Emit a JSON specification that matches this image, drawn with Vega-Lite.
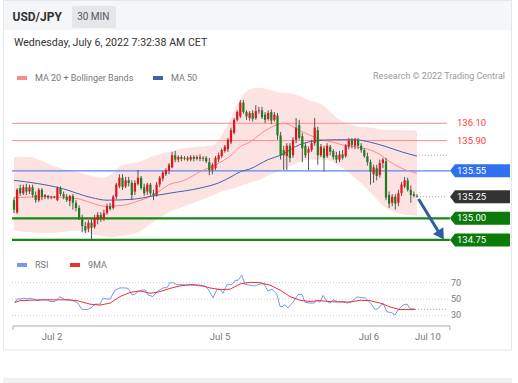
{
  "$schema": "https://vega.github.io/schema/vega-lite/v6.json",
  "width": 518,
  "height": 383,
  "padding": 0,
  "autosize": {"type": "none"},
  "background": "white",
  "config": {"view": {"stroke": null}, "font": "Roboto", "scale": {"continuousPadding": 0, "bandPaddingInner": 0}},
  "datasets": {
    "candles": [
      {"i":0,"o":135.21,"h":135.24,"l":135.06,"c":135.10},
      {"i":1,"o":135.07,"h":135.35,"l":135.05,"c":135.33},
      {"i":2,"o":135.35,"h":135.39,"l":135.26,"c":135.29},
      {"i":3,"o":135.29,"h":135.39,"l":135.27,"c":135.36},
      {"i":4,"o":135.36,"h":135.40,"l":135.27,"c":135.31},
      {"i":5,"o":135.31,"h":135.39,"l":135.28,"c":135.36},
      {"i":6,"o":135.36,"h":135.39,"l":135.24,"c":135.27},
      {"i":7,"o":135.27,"h":135.31,"l":135.18,"c":135.21},
      {"i":8,"o":135.21,"h":135.35,"l":135.19,"c":135.33},
      {"i":9,"o":135.33,"h":135.35,"l":135.21,"c":135.25},
      {"i":10,"o":135.25,"h":135.28,"l":135.22,"c":135.27},
      {"i":11,"o":135.26,"h":135.27,"l":135.22,"c":135.24},
      {"i":12,"o":135.24,"h":135.26,"l":135.22,"c":135.25},
      {"i":13,"o":135.25,"h":135.26,"l":135.23,"c":135.24},
      {"i":14,"o":135.21,"h":135.37,"l":135.20,"c":135.35},
      {"i":15,"o":135.35,"h":135.37,"l":135.26,"c":135.28},
      {"i":16,"o":135.28,"h":135.31,"l":135.22,"c":135.25},
      {"i":17,"o":135.25,"h":135.28,"l":135.19,"c":135.21},
      {"i":18,"o":135.20,"h":135.27,"l":135.14,"c":135.26},
      {"i":19,"o":135.26,"h":135.28,"l":135.10,"c":135.18},
      {"i":20,"o":135.18,"h":135.21,"l":135.08,"c":135.12},
      {"i":21,"o":135.12,"h":135.15,"l":134.98,"c":135.00},
      {"i":22,"o":135.00,"h":135.04,"l":134.84,"c":134.91},
      {"i":23,"o":134.91,"h":134.96,"l":134.83,"c":134.86},
      {"i":24,"o":134.88,"h":134.98,"l":134.84,"c":134.95},
      {"i":25,"o":134.95,"h":135.00,"l":134.75,"c":134.89},
      {"i":26,"o":134.90,"h":135.04,"l":134.88,"c":135.00},
      {"i":27,"o":134.98,"h":135.07,"l":134.93,"c":135.04},
      {"i":28,"o":135.04,"h":135.07,"l":134.96,"c":134.99},
      {"i":29,"o":134.99,"h":135.10,"l":134.97,"c":135.06},
      {"i":30,"o":135.06,"h":135.17,"l":135.04,"c":135.14},
      {"i":31,"o":135.14,"h":135.18,"l":135.09,"c":135.11},
      {"i":32,"o":135.12,"h":135.27,"l":135.10,"c":135.25},
      {"i":33,"o":135.25,"h":135.41,"l":135.22,"c":135.39},
      {"i":34,"o":135.37,"h":135.51,"l":135.35,"c":135.47},
      {"i":35,"o":135.47,"h":135.51,"l":135.33,"c":135.36},
      {"i":36,"o":135.37,"h":135.48,"l":135.35,"c":135.44},
      {"i":37,"o":135.44,"h":135.48,"l":135.37,"c":135.41},
      {"i":38,"o":135.41,"h":135.44,"l":135.21,"c":135.27},
      {"i":39,"o":135.31,"h":135.44,"l":135.27,"c":135.41},
      {"i":40,"o":135.40,"h":135.56,"l":135.38,"c":135.47},
      {"i":41,"o":135.47,"h":135.49,"l":135.33,"c":135.35},
      {"i":42,"o":135.36,"h":135.40,"l":135.26,"c":135.29},
      {"i":43,"o":135.31,"h":135.41,"l":135.27,"c":135.39},
      {"i":44,"o":135.39,"h":135.41,"l":135.26,"c":135.29},
      {"i":45,"o":135.29,"h":135.33,"l":135.21,"c":135.27},
      {"i":46,"o":135.27,"h":135.42,"l":135.25,"c":135.39},
      {"i":47,"o":135.39,"h":135.49,"l":135.36,"c":135.47},
      {"i":48,"o":135.46,"h":135.55,"l":135.43,"c":135.53},
      {"i":49,"o":135.51,"h":135.58,"l":135.49,"c":135.56},
      {"i":50,"o":135.55,"h":135.64,"l":135.51,"c":135.62},
      {"i":51,"o":135.59,"h":135.77,"l":135.58,"c":135.73},
      {"i":52,"o":135.73,"h":135.78,"l":135.65,"c":135.68},
      {"i":53,"o":135.68,"h":135.73,"l":135.65,"c":135.71},
      {"i":54,"o":135.71,"h":135.73,"l":135.66,"c":135.69},
      {"i":55,"o":135.69,"h":135.72,"l":135.67,"c":135.70},
      {"i":56,"o":135.70,"h":135.72,"l":135.66,"c":135.68},
      {"i":57,"o":135.68,"h":135.73,"l":135.66,"c":135.71},
      {"i":58,"o":135.71,"h":135.73,"l":135.66,"c":135.69},
      {"i":59,"o":135.69,"h":135.73,"l":135.67,"c":135.71},
      {"i":60,"o":135.71,"h":135.74,"l":135.66,"c":135.69},
      {"i":61,"o":135.69,"h":135.72,"l":135.66,"c":135.70},
      {"i":62,"o":135.70,"h":135.72,"l":135.64,"c":135.66},
      {"i":63,"o":135.65,"h":135.70,"l":135.50,"c":135.56},
      {"i":64,"o":135.56,"h":135.64,"l":135.51,"c":135.62},
      {"i":65,"o":135.58,"h":135.72,"l":135.56,"c":135.70},
      {"i":66,"o":135.68,"h":135.76,"l":135.65,"c":135.73},
      {"i":67,"o":135.72,"h":135.81,"l":135.70,"c":135.79},
      {"i":68,"o":135.78,"h":135.85,"l":135.76,"c":135.83},
      {"i":69,"o":135.80,"h":135.93,"l":135.77,"c":135.91},
      {"i":70,"o":135.88,"h":136.05,"l":135.86,"c":136.02},
      {"i":71,"o":135.99,"h":136.16,"l":135.97,"c":136.14},
      {"i":72,"o":136.14,"h":136.25,"l":136.12,"c":136.23},
      {"i":73,"o":136.18,"h":136.37,"l":136.16,"c":136.34},
      {"i":74,"o":136.34,"h":136.37,"l":136.21,"c":136.23},
      {"i":75,"o":136.23,"h":136.25,"l":136.14,"c":136.18},
      {"i":76,"o":136.16,"h":136.24,"l":136.13,"c":136.22},
      {"i":77,"o":136.22,"h":136.25,"l":136.12,"c":136.15},
      {"i":78,"o":136.16,"h":136.31,"l":136.14,"c":136.24},
      {"i":79,"o":136.24,"h":136.29,"l":136.21,"c":136.25},
      {"i":80,"o":136.25,"h":136.29,"l":136.15,"c":136.17},
      {"i":81,"o":136.20,"h":136.23,"l":136.10,"c":136.14},
      {"i":82,"o":136.15,"h":136.25,"l":136.13,"c":136.22},
      {"i":83,"o":136.23,"h":136.26,"l":136.09,"c":136.13},
      {"i":84,"o":136.14,"h":136.23,"l":136.12,"c":136.20},
      {"i":85,"o":136.19,"h":136.22,"l":135.91,"c":135.96},
      {"i":86,"o":135.96,"h":136.00,"l":135.68,"c":135.73},
      {"i":87,"o":135.79,"h":135.84,"l":135.56,"c":135.73},
      {"i":88,"o":135.72,"h":135.87,"l":135.56,"c":135.84},
      {"i":89,"o":135.84,"h":135.87,"l":135.65,"c":135.70},
      {"i":90,"o":135.73,"h":135.94,"l":135.70,"c":135.91},
      {"i":91,"o":135.91,"h":136.16,"l":135.87,"c":136.05},
      {"i":92,"o":136.08,"h":136.14,"l":135.91,"c":135.93},
      {"i":93,"o":135.95,"h":135.99,"l":135.65,"c":135.81},
      {"i":94,"o":135.84,"h":135.87,"l":135.70,"c":135.73},
      {"i":95,"o":135.76,"h":135.83,"l":135.56,"c":135.80},
      {"i":96,"o":135.79,"h":135.91,"l":135.77,"c":135.87},
      {"i":97,"o":135.87,"h":136.16,"l":135.84,"c":136.05},
      {"i":98,"o":136.02,"h":136.06,"l":135.62,"c":135.73},
      {"i":99,"o":135.73,"h":135.86,"l":135.71,"c":135.83},
      {"i":100,"o":135.81,"h":135.84,"l":135.54,"c":135.70},
      {"i":101,"o":135.72,"h":135.87,"l":135.70,"c":135.84},
      {"i":102,"o":135.83,"h":135.85,"l":135.73,"c":135.77},
      {"i":103,"o":135.78,"h":135.80,"l":135.68,"c":135.71},
      {"i":104,"o":135.73,"h":135.77,"l":135.64,"c":135.68},
      {"i":105,"o":135.68,"h":135.78,"l":135.65,"c":135.74},
      {"i":106,"o":135.74,"h":135.79,"l":135.68,"c":135.70},
      {"i":107,"o":135.72,"h":135.86,"l":135.70,"c":135.84},
      {"i":108,"o":135.83,"h":135.93,"l":135.80,"c":135.90},
      {"i":109,"o":135.90,"h":135.93,"l":135.81,"c":135.85},
      {"i":110,"o":135.84,"h":135.93,"l":135.80,"c":135.91},
      {"i":111,"o":135.90,"h":135.93,"l":135.80,"c":135.84},
      {"i":112,"o":135.84,"h":135.87,"l":135.76,"c":135.79},
      {"i":113,"o":135.79,"h":135.81,"l":135.70,"c":135.72},
      {"i":114,"o":135.72,"h":135.76,"l":135.61,"c":135.65},
      {"i":115,"o":135.65,"h":135.68,"l":135.39,"c":135.54},
      {"i":116,"o":135.51,"h":135.62,"l":135.41,"c":135.59},
      {"i":117,"o":135.58,"h":135.62,"l":135.44,"c":135.49},
      {"i":118,"o":135.50,"h":135.68,"l":135.47,"c":135.64},
      {"i":119,"o":135.64,"h":135.70,"l":135.58,"c":135.68},
      {"i":120,"o":135.66,"h":135.70,"l":135.21,"c":135.24},
      {"i":121,"o":135.27,"h":135.31,"l":135.12,"c":135.17},
      {"i":122,"o":135.18,"h":135.28,"l":135.14,"c":135.25},
      {"i":123,"o":135.25,"h":135.28,"l":135.10,"c":135.17},
      {"i":124,"o":135.18,"h":135.33,"l":135.14,"c":135.29},
      {"i":125,"o":135.29,"h":135.42,"l":135.26,"c":135.39},
      {"i":126,"o":135.37,"h":135.48,"l":135.35,"c":135.44},
      {"i":127,"o":135.44,"h":135.47,"l":135.31,"c":135.33},
      {"i":128,"o":135.33,"h":135.38,"l":135.18,"c":135.27},
      {"i":129,"o":135.28,"h":135.31,"l":135.24,"c":135.26},
      {"i":130,"o":135.26,"h":135.28,"l":135.24,"c":135.25}
    ],
    "band": [
      {"i":0,"u":135.71,"lo":134.86},{"i":5,"u":135.71,"lo":134.84},{"i":10,"u":135.65,"lo":134.83},
      {"i":15,"u":135.58,"lo":134.84},{"i":20,"u":135.54,"lo":134.86},{"i":25,"u":135.49,"lo":134.82},
      {"i":28,"u":135.47,"lo":134.80},{"i":31,"u":135.50,"lo":134.78},{"i":35,"u":135.62,"lo":134.80},
      {"i":40,"u":135.65,"lo":134.84},{"i":45,"u":135.72,"lo":134.96},{"i":50,"u":135.77,"lo":135.07},
      {"i":55,"u":135.81,"lo":135.14},{"i":60,"u":135.83,"lo":135.21},{"i":64.5,"u":135.85,"lo":135.27},
      {"i":66,"u":135.91,"lo":135.30},{"i":68,"u":136.02,"lo":135.32},{"i":70,"u":136.16,"lo":135.34},
      {"i":72,"u":136.31,"lo":135.36},{"i":74,"u":136.43,"lo":135.39},{"i":76,"u":136.49,"lo":135.41},
      {"i":79,"u":136.51,"lo":135.44},{"i":82,"u":136.49,"lo":135.50},{"i":85,"u":136.46,"lo":135.54},
      {"i":90,"u":136.44,"lo":135.62},{"i":95,"u":136.37,"lo":135.68},{"i":100,"u":136.30,"lo":135.68},
      {"i":103,"u":136.20,"lo":135.65},{"i":106,"u":136.12,"lo":135.58},{"i":110,"u":136.07,"lo":135.47},
      {"i":115,"u":136.05,"lo":135.30},{"i":120,"u":136.02,"lo":135.12},{"i":125,"u":136.02,"lo":135.05},
      {"i":130,"u":136.01,"lo":135.03}
    ],
    "ma": [
      {"i":0,"v":135.24,"s":"MA 20 + Bollinger Bands"},{"i":10,"v":135.25,"s":"MA 20 + Bollinger Bands"},
      {"i":20,"v":135.23,"s":"MA 20 + Bollinger Bands"},{"i":25,"v":135.18,"s":"MA 20 + Bollinger Bands"},
      {"i":29,"v":135.14,"s":"MA 20 + Bollinger Bands"},{"i":35,"v":135.15,"s":"MA 20 + Bollinger Bands"},
      {"i":40,"v":135.20,"s":"MA 20 + Bollinger Bands"},{"i":45,"v":135.27,"s":"MA 20 + Bollinger Bands"},
      {"i":50,"v":135.39,"s":"MA 20 + Bollinger Bands"},{"i":55,"v":135.44,"s":"MA 20 + Bollinger Bands"},
      {"i":60,"v":135.54,"s":"MA 20 + Bollinger Bands"},{"i":65,"v":135.62,"s":"MA 20 + Bollinger Bands"},
      {"i":70,"v":135.73,"s":"MA 20 + Bollinger Bands"},{"i":73,"v":135.83,"s":"MA 20 + Bollinger Bands"},
      {"i":76,"v":135.88,"s":"MA 20 + Bollinger Bands"},{"i":80,"v":135.99,"s":"MA 20 + Bollinger Bands"},
      {"i":84,"v":136.07,"s":"MA 20 + Bollinger Bands"},{"i":87,"v":136.10,"s":"MA 20 + Bollinger Bands"},
      {"i":90,"v":136.06,"s":"MA 20 + Bollinger Bands"},{"i":92,"v":136.02,"s":"MA 20 + Bollinger Bands"},
      {"i":95,"v":135.97,"s":"MA 20 + Bollinger Bands"},{"i":99,"v":135.91,"s":"MA 20 + Bollinger Bands"},
      {"i":103,"v":135.88,"s":"MA 20 + Bollinger Bands"},{"i":106,"v":135.85,"s":"MA 20 + Bollinger Bands"},
      {"i":110,"v":135.83,"s":"MA 20 + Bollinger Bands"},{"i":115,"v":135.79,"s":"MA 20 + Bollinger Bands"},
      {"i":118,"v":135.74,"s":"MA 20 + Bollinger Bands"},{"i":121,"v":135.66,"s":"MA 20 + Bollinger Bands"},
      {"i":125,"v":135.58,"s":"MA 20 + Bollinger Bands"},{"i":130,"v":135.52,"s":"MA 20 + Bollinger Bands"},
      {"i":0,"v":135.44,"s":"MA 50"},{"i":15,"v":135.35,"s":"MA 50"},{"i":25,"v":135.24,"s":"MA 50"},
      {"i":30,"v":135.21,"s":"MA 50"},{"i":38,"v":135.22,"s":"MA 50"},{"i":45,"v":135.26,"s":"MA 50"},
      {"i":50,"v":135.29,"s":"MA 50"},{"i":60,"v":135.35,"s":"MA 50"},{"i":66,"v":135.41,"s":"MA 50"},
      {"i":70,"v":135.48,"s":"MA 50"},{"i":73,"v":135.54,"s":"MA 50"},{"i":76,"v":135.57,"s":"MA 50"},
      {"i":82,"v":135.68,"s":"MA 50"},{"i":86,"v":135.73,"s":"MA 50"},{"i":92,"v":135.85,"s":"MA 50"},
      {"i":98,"v":135.90,"s":"MA 50"},{"i":104,"v":135.91,"s":"MA 50"},{"i":110,"v":135.91,"s":"MA 50"},
      {"i":115,"v":135.88,"s":"MA 50"},{"i":120,"v":135.83,"s":"MA 50"},{"i":125,"v":135.77,"s":"MA 50"},
      {"i":130,"v":135.72,"s":"MA 50"}
    ],
    "levels": [
      {"level":136.10,"type":"res"},{"level":135.90,"type":"res"},{"level":135.55,"type":"pivot"},
      {"level":135.25,"type":"last"},{"level":135.00,"type":"support"},{"level":134.75,"type":"support"}
    ],
    "grid": [{"g":70},{"g":50},{"g":30}],
    "dates": [{"d":"Jul 2","i":12.26},{"d":"Jul 5","i":66.45},{"d":"Jul 6","i":114.5},{"d":"Jul 10","i":133.5}],
    "rsi": [
      {"i":0.3,"v":45.6,"s":"RSI"},{"i":1.0,"v":50,"s":"RSI"},{"i":1.9,"v":50,"s":"RSI"},{"i":3.2,"v":51,"s":"RSI"},
      {"i":4.2,"v":50,"s":"RSI"},{"i":5.2,"v":51,"s":"RSI"},{"i":6.1,"v":50,"s":"RSI"},{"i":7.4,"v":48,"s":"RSI"},
      {"i":9.0,"v":49,"s":"RSI"},{"i":10.6,"v":49,"s":"RSI"},{"i":11.6,"v":47,"s":"RSI"},{"i":13.2,"v":47,"s":"RSI"},
      {"i":14.8,"v":52.8,"s":"RSI"},{"i":16.5,"v":49,"s":"RSI"},{"i":18.1,"v":49,"s":"RSI"},{"i":19.7,"v":47,"s":"RSI"},
      {"i":20.6,"v":45,"s":"RSI"},{"i":21.9,"v":37.3,"s":"RSI"},{"i":22.9,"v":37,"s":"RSI"},{"i":23.9,"v":37.3,"s":"RSI"},
      {"i":25.2,"v":40,"s":"RSI"},{"i":26.1,"v":43.7,"s":"RSI"},{"i":27.7,"v":43.7,"s":"RSI"},{"i":28.7,"v":51,"s":"RSI"},
      {"i":30.0,"v":50,"s":"RSI"},{"i":31.0,"v":50,"s":"RSI"},{"i":32.6,"v":61,"s":"RSI"},{"i":34.2,"v":63.6,"s":"RSI"},
      {"i":35.8,"v":63.6,"s":"RSI"},{"i":36.8,"v":63,"s":"RSI"},{"i":38.1,"v":55,"s":"RSI"},{"i":39.0,"v":56,"s":"RSI"},
      {"i":40.0,"v":59,"s":"RSI"},{"i":41.3,"v":61,"s":"RSI"},{"i":42.3,"v":61,"s":"RSI"},{"i":43.2,"v":55,"s":"RSI"},
      {"i":44.8,"v":53,"s":"RSI"},{"i":46.1,"v":59,"s":"RSI"},{"i":48.1,"v":63.6,"s":"RSI"},{"i":49.4,"v":64,"s":"RSI"},
      {"i":50.3,"v":70,"s":"RSI"},{"i":51.3,"v":70,"s":"RSI"},{"i":52.6,"v":67.6,"s":"RSI"},{"i":54.5,"v":67.6,"s":"RSI"},
      {"i":55.8,"v":67,"s":"RSI"},{"i":57.7,"v":67,"s":"RSI"},{"i":60.0,"v":66,"s":"RSI"},{"i":61.6,"v":66,"s":"RSI"},
      {"i":62.6,"v":62,"s":"RSI"},{"i":64.2,"v":51.5,"s":"RSI"},{"i":65.5,"v":62,"s":"RSI"},{"i":66.5,"v":62,"s":"RSI"},
      {"i":67.4,"v":57,"s":"RSI"},{"i":68.7,"v":67.6,"s":"RSI"},{"i":70.3,"v":67.6,"s":"RSI"},{"i":71.3,"v":73,"s":"RSI"},
      {"i":72.3,"v":73,"s":"RSI"},{"i":73.5,"v":79.5,"s":"RSI"},{"i":74.5,"v":68,"s":"RSI"},{"i":76.1,"v":67,"s":"RSI"},
      {"i":77.7,"v":66,"s":"RSI"},{"i":79.4,"v":68.5,"s":"RSI"},{"i":80.6,"v":68.5,"s":"RSI"},{"i":81.9,"v":60,"s":"RSI"},
      {"i":83.2,"v":62,"s":"RSI"},{"i":84.8,"v":56,"s":"RSI"},{"i":85.8,"v":41,"s":"RSI"},{"i":86.5,"v":40.6,"s":"RSI"},
      {"i":87.4,"v":43,"s":"RSI"},{"i":88.4,"v":39,"s":"RSI"},{"i":90.0,"v":46,"s":"RSI"},{"i":91.6,"v":55.5,"s":"RSI"},
      {"i":92.9,"v":55.5,"s":"RSI"},{"i":93.9,"v":46,"s":"RSI"},{"i":95.5,"v":45,"s":"RSI"},{"i":96.8,"v":45,"s":"RSI"},
      {"i":97.7,"v":49,"s":"RSI"},{"i":98.7,"v":46,"s":"RSI"},{"i":99.7,"v":54.4,"s":"RSI"},{"i":101.0,"v":47,"s":"RSI"},
      {"i":101.9,"v":45,"s":"RSI"},{"i":102.9,"v":49,"s":"RSI"},{"i":104.2,"v":47,"s":"RSI"},{"i":106.1,"v":47,"s":"RSI"},
      {"i":107.4,"v":45,"s":"RSI"},{"i":109.0,"v":47,"s":"RSI"},{"i":110.6,"v":52.5,"s":"RSI"},{"i":112.3,"v":51.5,"s":"RSI"},
      {"i":113.2,"v":51.5,"s":"RSI"},{"i":114.8,"v":46,"s":"RSI"},{"i":116.5,"v":37.4,"s":"RSI"},{"i":117.4,"v":38,"s":"RSI"},
      {"i":119.0,"v":45,"s":"RSI"},{"i":120.3,"v":34.4,"s":"RSI"},{"i":121.9,"v":33,"s":"RSI"},{"i":122.9,"v":30.4,"s":"RSI"},
      {"i":123.9,"v":36.6,"s":"RSI"},{"i":125.5,"v":42.6,"s":"RSI"},{"i":126.8,"v":43.8,"s":"RSI"},{"i":127.7,"v":38.5,"s":"RSI"},
      {"i":129.4,"v":37.4,"s":"RSI"},
      {"i":0.3,"v":45.6,"s":"9MA"},{"i":1.9,"v":48,"s":"9MA"},{"i":5.2,"v":48.5,"s":"9MA"},{"i":8.4,"v":49,"s":"9MA"},
      {"i":11.6,"v":49,"s":"9MA"},{"i":14.8,"v":49,"s":"9MA"},{"i":17.1,"v":49,"s":"9MA"},{"i":20.3,"v":48,"s":"9MA"},
      {"i":24.5,"v":43.7,"s":"9MA"},{"i":27.7,"v":42.5,"s":"9MA"},{"i":31.0,"v":45,"s":"9MA"},{"i":34.2,"v":53,"s":"9MA"},
      {"i":37.4,"v":58,"s":"9MA"},{"i":40.6,"v":60,"s":"9MA"},{"i":43.9,"v":57,"s":"9MA"},{"i":47.1,"v":59,"s":"9MA"},
      {"i":50.3,"v":63,"s":"9MA"},{"i":53.5,"v":66,"s":"9MA"},{"i":56.8,"v":67.6,"s":"9MA"},{"i":60.0,"v":67,"s":"9MA"},
      {"i":63.2,"v":63.6,"s":"9MA"},{"i":66.5,"v":61.5,"s":"9MA"},{"i":69.7,"v":62,"s":"9MA"},{"i":72.9,"v":68.5,"s":"9MA"},
      {"i":76.1,"v":70.5,"s":"9MA"},{"i":79.4,"v":70,"s":"9MA"},{"i":82.6,"v":67,"s":"9MA"},{"i":85.8,"v":61,"s":"9MA"},
      {"i":89.0,"v":53,"s":"9MA"},{"i":92.3,"v":48.4,"s":"9MA"},{"i":95.5,"v":47,"s":"9MA"},{"i":98.7,"v":48,"s":"9MA"},
      {"i":101.9,"v":46.7,"s":"9MA"},{"i":105.2,"v":46.3,"s":"9MA"},{"i":108.4,"v":46.3,"s":"9MA"},{"i":111.6,"v":48.4,"s":"9MA"},
      {"i":114.8,"v":48,"s":"9MA"},{"i":118.1,"v":45,"s":"9MA"},{"i":121.3,"v":40.3,"s":"9MA"},{"i":124.5,"v":37,"s":"9MA"},
      {"i":127.7,"v":37,"s":"9MA"},{"i":129.4,"v":37,"s":"9MA"}
    ]
  },
  "layer": [
    {
      "data": {"values": [{}]},
      "mark": {"type": "rect", "fill": "#f5f6f8"},
      "encoding": {
        "x": {"datum": -3.548, "type": "quantitative", "scale": {"domain": [-4.516, 162.58], "nice": false, "zero": false, "padding": 0}, "axis": null},
        "x2": {"datum": 160.645},
        "y": {"datum": 137.527, "type": "quantitative", "scale": {"domain": [133.094, 137.527], "nice": false, "zero": false}, "axis": null},
        "y2": {"datum": 137.18}
      }
    },
    {
      "data": {"values": [{}]},
      "mark": {"type": "rect", "fill": "transparent", "stroke": "#e3e7eb", "strokeWidth": 1},
      "encoding": {
        "x": {"datum": -3.39, "type": "quantitative", "scale": {"domain": [-4.516, 162.58], "nice": false, "zero": false, "padding": 0}, "axis": null},
        "x2": {"datum": 160.48},
        "y": {"datum": 137.521, "type": "quantitative", "scale": {"domain": [133.094, 137.527], "nice": false, "zero": false}, "axis": null},
        "y2": {"datum": 133.476}
      }
    },
    {
      "data": {"values": [{}]},
      "mark": {"type": "rect", "fill": "#f1f1f1"},
      "encoding": {
        "x": {"datum": -3.548, "type": "quantitative", "scale": {"domain": [-4.516, 162.58], "nice": false, "zero": false, "padding": 0}, "axis": null},
        "x2": {"datum": 160.645},
        "y": {"datum": 133.152, "type": "quantitative", "scale": {"domain": [133.094, 137.527], "nice": false, "zero": false}, "axis": null},
        "y2": {"datum": 133.094}
      }
    },
    {
      "data": {"values": [{}]},
      "mark": {"type": "rect", "fill": "#e4e6e9", "cornerRadius": 2},
      "encoding": {
        "x": {"datum": 18.71, "type": "quantitative", "scale": {"domain": [-4.516, 162.58], "nice": false, "zero": false, "padding": 0}, "axis": null},
        "x2": {"datum": 32.9},
        "y": {"datum": 137.458, "type": "quantitative", "scale": {"domain": [133.094, 137.527], "nice": false, "zero": false}, "axis": null},
        "y2": {"datum": 137.203}
      }
    },
    {
      "data": {"values": [{}]},
      "mark": {"type": "text", "text": "USD/JPY", "align": "left", "baseline": "middle", "font": "Roboto", "fontSize": 12, "fontWeight": "bold", "fill": "#333"},
      "encoding": {
        "x": {"datum": -0.484, "type": "quantitative", "scale": {"domain": [-4.516, 162.58], "nice": false, "zero": false, "padding": 0}, "axis": null},
        "y": {"datum": 137.33, "type": "quantitative", "scale": {"domain": [133.094, 137.527], "nice": false, "zero": false}, "axis": null}
      }
    },
    {
      "data": {"values": [{}]},
      "mark": {"type": "text", "text": "30 MIN", "align": "center", "baseline": "middle", "font": "Roboto", "fontSize": 10, "fill": "#555"},
      "encoding": {
        "x": {"datum": 25.58, "type": "quantitative", "scale": {"domain": [-4.516, 162.58], "nice": false, "zero": false, "padding": 0}, "axis": null},
        "y": {"datum": 137.33, "type": "quantitative", "scale": {"domain": [133.094, 137.527], "nice": false, "zero": false}, "axis": null}
      }
    },
    {
      "data": {"values": [{}]},
      "mark": {"type": "text", "text": "Wednesday, July 6, 2022 7:32:38 AM CET", "align": "left", "baseline": "middle", "font": "Roboto", "fontSize": 10.6, "fill": "#333"},
      "encoding": {
        "x": {"datum": 0, "type": "quantitative", "scale": {"domain": [-4.516, 162.58], "nice": false, "zero": false, "padding": 0}, "axis": null},
        "y": {"datum": 137.033, "type": "quantitative", "scale": {"domain": [133.094, 137.527], "nice": false, "zero": false}, "axis": null}
      }
    },
    {
      "data": {"values": [{}]},
      "mark": {"type": "text", "text": "Research © 2022 Trading Central", "align": "right", "baseline": "middle", "font": "Roboto", "fontSize": 9, "fill": "#9a9a9a"},
      "encoding": {
        "x": {"datum": 158.39, "type": "quantitative", "scale": {"domain": [-4.516, 162.58], "nice": false, "zero": false, "padding": 0}, "axis": null},
        "y": {"datum": 136.651, "type": "quantitative", "scale": {"domain": [133.094, 137.527], "nice": false, "zero": false}, "axis": null}
      }
    },
    {
      "data": {"name": "band"},
      "mark": {"type": "area", "fill": "#fde2e2", "interpolate": "monotone"},
      "encoding": {
        "x": {"field": "i", "type": "quantitative", "scale": {"domain": [-4.516, 162.58], "nice": false, "zero": false, "padding": 0}, "axis": null},
        "y": {"field": "u", "type": "quantitative", "scale": {"domain": [133.094, 137.527], "nice": false, "zero": false}, "axis": null},
        "y2": {"field": "lo"}
      }
    },
    {
      "data": {"name": "levels"},
      "transform": [{"filter": "datum.type == 'res'"}],
      "mark": {"type": "rule", "stroke": "#ff8c8c", "strokeWidth": 1},
      "encoding": {
        "x": {"datum": -0.645, "type": "quantitative", "scale": {"domain": [-4.516, 162.58], "nice": false, "zero": false, "padding": 0}, "axis": null},
        "x2": {"datum": 139.7},
        "y": {"field": "level", "type": "quantitative", "scale": {"domain": [133.094, 137.527], "nice": false, "zero": false}, "axis": null}
      }
    },
    {
      "data": {"name": "levels"},
      "transform": [{"filter": "datum.type == 'pivot'"}],
      "mark": {"type": "rule", "stroke": "#5a86f2", "strokeWidth": 1.2},
      "encoding": {
        "x": {"datum": -0.645, "type": "quantitative", "scale": {"domain": [-4.516, 162.58], "nice": false, "zero": false, "padding": 0}, "axis": null},
        "x2": {"datum": 140.6},
        "y": {"field": "level", "type": "quantitative", "scale": {"domain": [133.094, 137.527], "nice": false, "zero": false}, "axis": null}
      }
    },
    {
      "data": {"name": "levels"},
      "transform": [{"filter": "datum.type == 'support'"}],
      "mark": {"type": "rule", "stroke": "#148a14", "strokeWidth": 2.2},
      "encoding": {
        "x": {"datum": -0.645, "type": "quantitative", "scale": {"domain": [-4.516, 162.58], "nice": false, "zero": false, "padding": 0}, "axis": null},
        "x2": {"datum": 140.6},
        "y": {"field": "level", "type": "quantitative", "scale": {"domain": [133.094, 137.527], "nice": false, "zero": false}, "axis": null}
      }
    },
    {
      "data": {"name": "ma"},
      "mark": {"type": "line", "strokeWidth": 1, "interpolate": "monotone"},
      "encoding": {
        "x": {"field": "i", "type": "quantitative", "scale": {"domain": [-4.516, 162.58], "nice": false, "zero": false, "padding": 0}, "axis": null},
        "y": {"field": "v", "type": "quantitative", "scale": {"domain": [133.094, 137.527], "nice": false, "zero": false}, "axis": null},
        "color": {
          "field": "s", "type": "nominal",
          "scale": {"domain": ["MA 20 + Bollinger Bands", "MA 50"], "range": ["#fb8a8a", "#4064aa"]},
          "legend": {
            "orient": "none", "legendX": 15, "legendY": 71, "direction": "horizontal", "title": null,
            "symbolType": "stroke", "symbolSize": 100, "symbolStrokeWidth": 4, "labelOffset": 6, "columnPadding": 11,
            "labelFont": "Roboto", "labelFontSize": 9, "labelColor": "#777"
          }
        }
      }
    },
    {
      "data": {"name": "candles"},
      "mark": {"type": "rule", "stroke": "#555", "strokeWidth": 1},
      "encoding": {
        "x": {"field": "i", "type": "quantitative", "scale": {"domain": [-4.516, 162.58], "nice": false, "zero": false, "padding": 0}, "axis": null},
        "y": {"field": "l", "type": "quantitative", "scale": {"domain": [133.094, 137.527], "nice": false, "zero": false}, "axis": null},
        "y2": {"field": "h"}
      }
    },
    {
      "data": {"name": "candles"},
      "mark": {"type": "bar", "size": 2.2},
      "encoding": {
        "x": {"field": "i", "type": "quantitative", "scale": {"domain": [-4.516, 162.58], "nice": false, "zero": false, "padding": 0}, "axis": null},
        "y": {"field": "o", "type": "quantitative", "scale": {"domain": [133.094, 137.527], "nice": false, "zero": false}, "axis": null},
        "y2": {"field": "c"},
        "color": {"condition": {"test": "datum.c >= datum.o", "value": "#e3141b"}, "value": "#1e7d1e"}
      }
    },
    {
      "data": {"values": [{}]},
      "mark": {"type": "rule", "stroke": "#999", "strokeWidth": 1, "strokeDash": [1, 2]},
      "encoding": {
        "x": {"datum": 130.6, "type": "quantitative", "scale": {"domain": [-4.516, 162.58], "nice": false, "zero": false, "padding": 0}, "axis": null},
        "x2": {"datum": 139.7},
        "y": {"datum": 135.73, "type": "quantitative", "scale": {"domain": [133.094, 137.527], "nice": false, "zero": false}, "axis": null}
      }
    },
    {
      "data": {"name": "levels"},
      "transform": [{"filter": "datum.type == 'last'"}],
      "mark": {"type": "rule", "stroke": "#999", "strokeWidth": 1, "strokeDash": [1, 2]},
      "encoding": {
        "x": {"datum": 131, "type": "quantitative", "scale": {"domain": [-4.516, 162.58], "nice": false, "zero": false, "padding": 0}, "axis": null},
        "x2": {"datum": 139.7},
        "y": {"field": "level", "type": "quantitative", "scale": {"domain": [133.094, 137.527], "nice": false, "zero": false}, "axis": null}
      }
    },
    {
      "data": {"values": [{}]},
      "mark": {"type": "rule", "stroke": "#2d5e9e", "strokeWidth": 3},
      "encoding": {
        "x": {"datum": 130.5, "type": "quantitative", "scale": {"domain": [-4.516, 162.58], "nice": false, "zero": false, "padding": 0}, "axis": null},
        "x2": {"datum": 136.8},
        "y": {"datum": 135.224, "type": "quantitative", "scale": {"domain": [133.094, 137.527], "nice": false, "zero": false}, "axis": null},
        "y2": {"datum": 134.853}
      }
    },
    {
      "data": {"values": [{}]},
      "mark": {"type": "point", "shape": "triangle-down", "filled": true, "size": 150, "angle": -33, "fill": "#2d5e9e", "strokeWidth": 0, "opacity": 1},
      "encoding": {
        "x": {"datum": 137.74, "type": "quantitative", "scale": {"domain": [-4.516, 162.58], "nice": false, "zero": false, "padding": 0}, "axis": null},
        "y": {"datum": 134.807, "type": "quantitative", "scale": {"domain": [133.094, 137.527], "nice": false, "zero": false}, "axis": null}
      }
    },
    {
      "data": {"name": "levels"},
      "transform": [{"filter": "datum.type != 'res'"}],
      "mark": {"type": "point", "shape": "M-1,0L-0.833,-0.217L1,-0.217L1,0.217L-0.833,0.217Z", "filled": true, "size": 3600, "strokeWidth": 0, "opacity": 1},
      "encoding": {
        "x": {"datum": 150.32, "type": "quantitative", "scale": {"domain": [-4.516, 162.58], "nice": false, "zero": false, "padding": 0}, "axis": null},
        "y": {"field": "level", "type": "quantitative", "scale": {"domain": [133.094, 137.527], "nice": false, "zero": false}, "axis": null},
        "color": {"field": "type", "type": "nominal", "scale": {"domain": ["pivot", "last", "support"], "range": ["#2f6ff0", "#333333", "#0b7a0b"]}, "legend": null}
      }
    },
    {
      "data": {"name": "levels"},
      "mark": {"type": "text", "align": "left", "baseline": "middle", "font": "Roboto", "fontSize": 9.5},
      "encoding": {
        "x": {"datum": 142.9, "type": "quantitative", "scale": {"domain": [-4.516, 162.58], "nice": false, "zero": false, "padding": 0}, "axis": null},
        "y": {"field": "level", "type": "quantitative", "scale": {"domain": [133.094, 137.527], "nice": false, "zero": false}, "axis": null},
        "text": {"field": "level", "format": ".2f"},
        "color": {"condition": {"test": "datum.type == 'res'", "value": "#ff3b3b"}, "value": "#ffffff"}
      }
    },
    {
      "data": {"name": "grid"},
      "mark": {"type": "rule", "stroke": "#cccccc", "strokeWidth": 1, "strokeDash": [1, 2]},
      "encoding": {
        "x": {"datum": -0.645, "type": "quantitative", "scale": {"domain": [-4.516, 162.58], "nice": false, "zero": false, "padding": 0}, "axis": null},
        "x2": {"datum": 140},
        "y": {"field": "g", "type": "quantitative", "scale": {"domain": [-53.07, 416.9], "nice": false, "zero": false}, "axis": null}
      }
    },
    {
      "data": {"name": "grid"},
      "mark": {"type": "text", "align": "left", "baseline": "middle", "font": "Roboto", "fontSize": 9, "fill": "#777"},
      "encoding": {
        "x": {"datum": 140.97, "type": "quantitative", "scale": {"domain": [-4.516, 162.58], "nice": false, "zero": false, "padding": 0}, "axis": null},
        "y": {"field": "g", "type": "quantitative", "scale": {"domain": [-53.07, 416.9], "nice": false, "zero": false}, "axis": null},
        "text": {"field": "g"}
      }
    },
    {
      "data": {"name": "rsi"},
      "mark": {"type": "line", "strokeWidth": 1},
      "encoding": {
        "x": {"field": "i", "type": "quantitative", "scale": {"domain": [-4.516, 162.58], "nice": false, "zero": false, "padding": 0}, "axis": null},
        "y": {"field": "v", "type": "quantitative", "scale": {"domain": [-53.07, 416.9], "nice": false, "zero": false}, "axis": null},
        "color": {
          "field": "s", "type": "nominal",
          "scale": {"domain": ["RSI", "9MA"], "range": ["#7499ee", "#ee3030"]},
          "legend": {
            "orient": "none", "legendX": 15, "legendY": 258, "direction": "horizontal", "title": null,
            "symbolType": "stroke", "symbolSize": 100, "symbolStrokeWidth": 4, "labelOffset": 6, "columnPadding": 13,
            "labelFont": "Roboto", "labelFontSize": 9, "labelColor": "#777"
          }
        }
      }
    },
    {
      "data": {"values": [{}]},
      "mark": {"type": "rule", "stroke": "#7499ee", "strokeWidth": 1, "strokeDash": [1, 2]},
      "encoding": {
        "x": {"datum": 129.4, "type": "quantitative", "scale": {"domain": [-4.516, 162.58], "nice": false, "zero": false, "padding": 0}, "axis": null},
        "x2": {"datum": 140},
        "y": {"datum": 37.4, "type": "quantitative", "scale": {"domain": [-53.07, 416.9], "nice": false, "zero": false}, "axis": null}
      }
    },
    {
      "data": {"values": [{}]},
      "mark": {"type": "rule", "stroke": "#aaaaaa", "strokeWidth": 1},
      "encoding": {
        "x": {"datum": -0.32, "type": "quantitative", "scale": {"domain": [-4.516, 162.58], "nice": false, "zero": false, "padding": 0}, "axis": null},
        "x2": {"datum": 140.6},
        "y": {"datum": 16.9, "type": "quantitative", "scale": {"domain": [-53.07, 416.9], "nice": false, "zero": false}, "axis": null}
      }
    },
    {
      "data": {"values": [{"e": -0.32}, {"e": 140.6}]},
      "mark": {"type": "rule", "stroke": "#aaaaaa", "strokeWidth": 1},
      "encoding": {
        "x": {"field": "e", "type": "quantitative", "scale": {"domain": [-4.516, 162.58], "nice": false, "zero": false, "padding": 0}, "axis": null},
        "y": {"datum": 16.9, "type": "quantitative", "scale": {"domain": [-53.07, 416.9], "nice": false, "zero": false}, "axis": null},
        "y2": {"datum": 12.0}
      }
    },
    {
      "data": {"name": "dates"},
      "mark": {"type": "text", "align": "center", "baseline": "middle", "font": "Roboto", "fontSize": 9.5, "fill": "#777"},
      "encoding": {
        "x": {"field": "i", "type": "quantitative", "scale": {"domain": [-4.516, 162.58], "nice": false, "zero": false, "padding": 0}, "axis": null},
        "y": {"datum": 3.0, "type": "quantitative", "scale": {"domain": [-53.07, 416.9], "nice": false, "zero": false}, "axis": null},
        "text": {"field": "d"}
      }
    }
  ],
  "resolve": {"scale": {"y": "independent", "color": "independent"}}
}
